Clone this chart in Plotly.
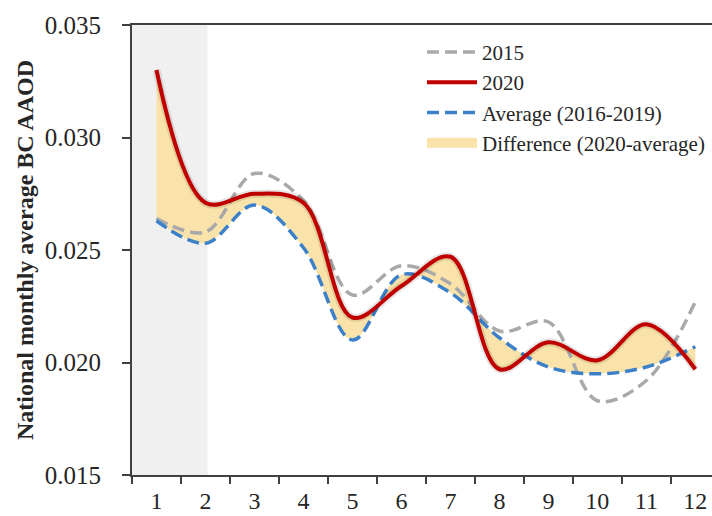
import plotly.graph_objects as go

# Monthly national mean BC AAOD
months = ["1", "2", "3", "4", "5", "6", "7", "8", "9", "10", "11", "12"]
aaod_2015 = [0.0264, 0.0258, 0.0284, 0.0272, 0.0230, 0.0243, 0.0235, 0.0214, 0.0218, 0.0183, 0.0192, 0.0227]
aaod_2020 = [0.0330, 0.0271, 0.0275, 0.0271, 0.0220, 0.0234, 0.0247, 0.0197, 0.0209, 0.0201, 0.0217, 0.0197]
aaod_avg = [0.0263, 0.0253, 0.0270, 0.0251, 0.0210, 0.0239, 0.0231, 0.0211, 0.0198, 0.0195, 0.0198, 0.0207]

y_ticks = [0.015, 0.020, 0.025, 0.030, 0.035]

RED = "#C00000"
BLUE = "#3B80C8"
GREY = "#A9A9A9"
FILL = "#FAE3AA"
SERIF = "Liberation Serif, Times New Roman, serif"
SMOOTH = 1.0

fig = go.Figure()

# Shaded band between the average and 2020 curves
fig.add_trace(go.Scatter(x=months, y=aaod_avg, mode="lines",
                         line=dict(width=0, shape="spline", smoothing=SMOOTH),
                         showlegend=False, hoverinfo="skip"))
fig.add_trace(go.Scatter(x=months, y=aaod_2020, mode="lines",
                         line=dict(width=0, shape="spline", smoothing=SMOOTH),
                         fill="tonexty", fillcolor=FILL,
                         showlegend=False, hoverinfo="skip"))

fig.add_trace(go.Scatter(x=months, y=aaod_2015, mode="lines", name="2015",
                         legendgroup="a", legendrank=1,
                         line=dict(color=GREY, width=3.5, dash="12px,6px",
                                   shape="spline", smoothing=SMOOTH)))
fig.add_trace(go.Scatter(x=months, y=aaod_avg, mode="lines", name="Average (2016-2019)",
                         legendgroup="c", legendrank=3,
                         line=dict(color=BLUE, width=3.5, dash="12px,6px",
                                   shape="spline", smoothing=SMOOTH)))
# soft drop shadow under the 2020 line
fig.add_trace(go.Scatter(x=months, y=aaod_2020, mode="lines",
                         line=dict(color="rgba(0,0,0,0.10)", width=8,
                                   shape="spline", smoothing=SMOOTH),
                         showlegend=False, hoverinfo="skip"))
fig.add_trace(go.Scatter(x=months, y=aaod_2020, mode="lines", name="2020",
                         legendgroup="b", legendrank=2,
                         line=dict(color=RED, width=4, shape="spline", smoothing=SMOOTH)))
# legend key for the shaded difference
fig.add_trace(go.Scatter(x=[None], y=[None], mode="lines", name="Difference (2020-average)",
                         legendgroup="d", legendrank=4,
                         line=dict(color=FILL, width=12)))

# grey band over January-February
fig.add_shape(type="rect", xref="x", yref="paper", x0=-0.5, x1=1.04, y0=0, y1=1,
              fillcolor="#F0F0F0", line=dict(width=0), layer="below")

fig.update_layout(
    width=712, height=516,
    margin=dict(l=132, r=0, t=25, b=41),
    paper_bgcolor="white", plot_bgcolor="white",
    font=dict(family=SERIF, color="#262626"),
    legend=dict(x=0.50, y=0.985, xanchor="left", yanchor="top",
                traceorder="grouped", tracegroupgap=0, itemwidth=50,
                font=dict(size=21, family=SERIF, color="#262626"),
                bgcolor="rgba(255,255,255,0)"),
    xaxis=dict(type="category", range=[-0.5, 11.34], tickson="boundaries",
               automargin=False,
               showline=True, linecolor="#404040", linewidth=2, mirror=True,
               ticks="outside", ticklen=7, tickwidth=2, tickcolor="#404040",
               ticklabelstandoff=3,
               showgrid=False, zeroline=False,
               tickfont=dict(size=24, family=SERIF, color="#262626")),
    yaxis=dict(range=[0.015, 0.035], tickvals=y_ticks, tickformat=".3f",
               automargin=False,
               showline=True, linecolor="#404040", linewidth=2,
               ticks="outside", ticklen=8, tickwidth=2, tickcolor="#404040",
               ticklabelstandoff=16,
               showgrid=False, zeroline=False,
               tickfont=dict(size=25, family=SERIF, color="#262626"),
               title=dict(text="<b>National monthly average BC AAOD</b>", standoff=4,
                          font=dict(size=24, family=SERIF, color="#262626"))),
)

fig.write_html("out.html")
